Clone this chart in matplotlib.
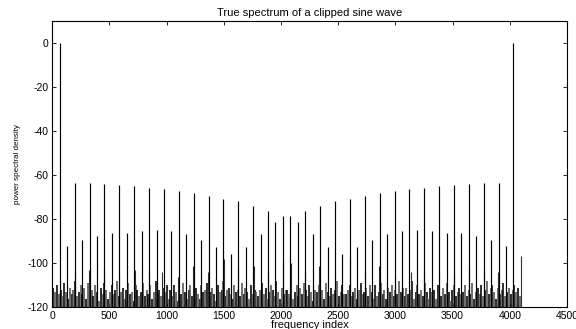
import matplotlib
matplotlib.use("Agg")
import matplotlib.pyplot as plt
import numpy as np

plt.rcParams['font.family'] = ['Liberation Sans', 'DejaVu Sans']
plt.rcParams['axes.unicode_minus'] = False

# harmonic spikes (bin index, dB); spectrum is two-sided
harm_bins_lo = [66, 131, 196, 261, 326, 391, 456, 521, 586, 651, 716, 781, 846, 911, 976, 1041,
                1106, 1171, 1236, 1301, 1366, 1431, 1496, 1561, 1626, 1691, 1756, 1821, 1886, 1951, 2016]
harm_bins_hi = [4032, 3967, 3902, 3837, 3772, 3707, 3642, 3577, 3512, 3447, 3382, 3317, 3252, 3187, 3122, 3057,
                2992, 2927, 2862, 2797, 2732, 2667, 2602, 2537, 2472, 2407, 2342, 2277, 2212, 2147, 2082]
harm_db = [0, -92.0, -63.6, -89.2, -63.6, -87.6, -63.9, -86.4, -64.5, -86.2, -64.8, -85.1, -65.8, -84.8,
           -66.2, -85.1, -67.0, -86.6, -68.2, -89.2, -69.2, -92.4, -70.7, -95.8, -71.9, -92.7, -74.1,
           -86.6, -76.1, -81.3, -78.3]

# small leakage peaks next to the big harmonics
side_bins = [199, 322, 452, 583, 720, 843, 960, 1102, 1233, 1362, 1499, 1622, 1760, 1883, 2013,
             2085, 2213, 2336, 2468, 2601, 2736, 2860, 2995, 3137, 3254, 3378, 3514, 3645, 3775, 3898, 4096]
side_db = [-104, -103, -102, -105, -103, -103, -104, -106, -101, -104, -98, -103, -101, -104, -99,
           -100, -104, -101, -103, -98, -104, -101, -106, -104, -103, -103, -105, -102, -103, -104, -96.5]

# noise floor, one value per 16-bin block (0..4095)
floor_db = [
    -111, -113, -110, -114, -112, -115, -109, -113, -116, -111, -114, -112, -108, -115, -113, -110,
    -114, -111, -116, -109, -113, -112, -115, -110, -113, -117, -111, -114, -109, -112, -116, -113,
    -110, -114, -112, -108, -115, -113, -111, -116, -112, -109, -114, -113, -117, -110, -112, -115,
    -113, -109, -115, -112, -114, -110, -116, -113, -108, -114, -112, -115, -111, -113, -110, -116,
    -112, -115, -110, -113, -117, -111, -114, -109, -113, -116, -112, -110, -115, -113, -111, -114,
    -116, -110, -113, -112, -109, -115, -113, -111, -114, -117, -110, -113, -112, -108, -115, -112,
    -111, -114, -116, -110, -113, -112, -115, -109, -114, -111, -113, -116, -110, -114, -112, -113,
    -115, -112, -109, -114, -111, -116, -113, -110, -112, -115, -108, -113, -116, -111, -114, -112,
    -112, -114, -111, -116, -113, -110, -115, -111, -114, -109, -112, -115, -110, -113, -117, -112,
    -113, -110, -114, -112, -116, -109, -113, -115, -111, -114, -112, -108, -115, -113, -110, -114,
    -114, -112, -110, -115, -113, -111, -116, -112, -109, -114, -113, -111, -115, -110, -113, -116,
    -110, -115, -113, -109, -114, -112, -116, -111, -113, -110, -115, -112, -114, -108, -113, -111,
    -115, -111, -114, -112, -108, -116, -113, -110, -114, -112, -115, -109, -113, -116, -111, -113,
    -112, -116, -110, -113, -115, -111, -114, -109, -113, -117, -112, -110, -115, -113, -111, -114,
    -113, -110, -115, -112, -114, -109, -116, -113, -111, -114, -110, -115, -112, -108, -114, -111,
    -110, -113, -116, -111, -114, -112, -109, -115, -113, -111, -114, -112, -110, -113, -111, -115,
]

bottom = -120
floor_x = np.arange(len(floor_db)) * 16 + 8

fig = plt.figure(figsize=(5.76, 3.29), dpi=100)
ax = fig.add_axes([0.0908, 0.0655, 0.8936, 0.8705])

cols = ['0.0' if i % 2 == 0 else '0.3' for i in range(len(floor_db))]
ax.vlines(floor_x, bottom, floor_db, colors=cols, lw=1.15)
ax.vlines(side_bins, bottom, side_db, colors='0.2', lw=0.8)
ax.vlines(harm_bins_lo, bottom, harm_db, colors='black', lw=0.85)
ax.vlines(harm_bins_hi, bottom, harm_db, colors='black', lw=0.85)

ax.set_xlim(0, 4500)
ax.set_ylim(-120, 10)
ax.set_xticks(np.arange(0, 4501, 500))
ax.set_yticks(np.arange(-120, 1, 20))
ax.tick_params(direction='in', length=3, width=0.6, labelsize=7.5, pad=2.5,
               top=True, right=True)
for s in ax.spines.values():
    s.set_linewidth(0.8)

ax.set_title('True spectrum of a clipped sine wave', fontsize=8, pad=4)
ax.set_xlabel('frequency index', fontsize=7.8, labelpad=-1)
ax.set_ylabel('power spectral density', fontsize=5.8, labelpad=5)

fig.savefig('out.png', dpi=100)
